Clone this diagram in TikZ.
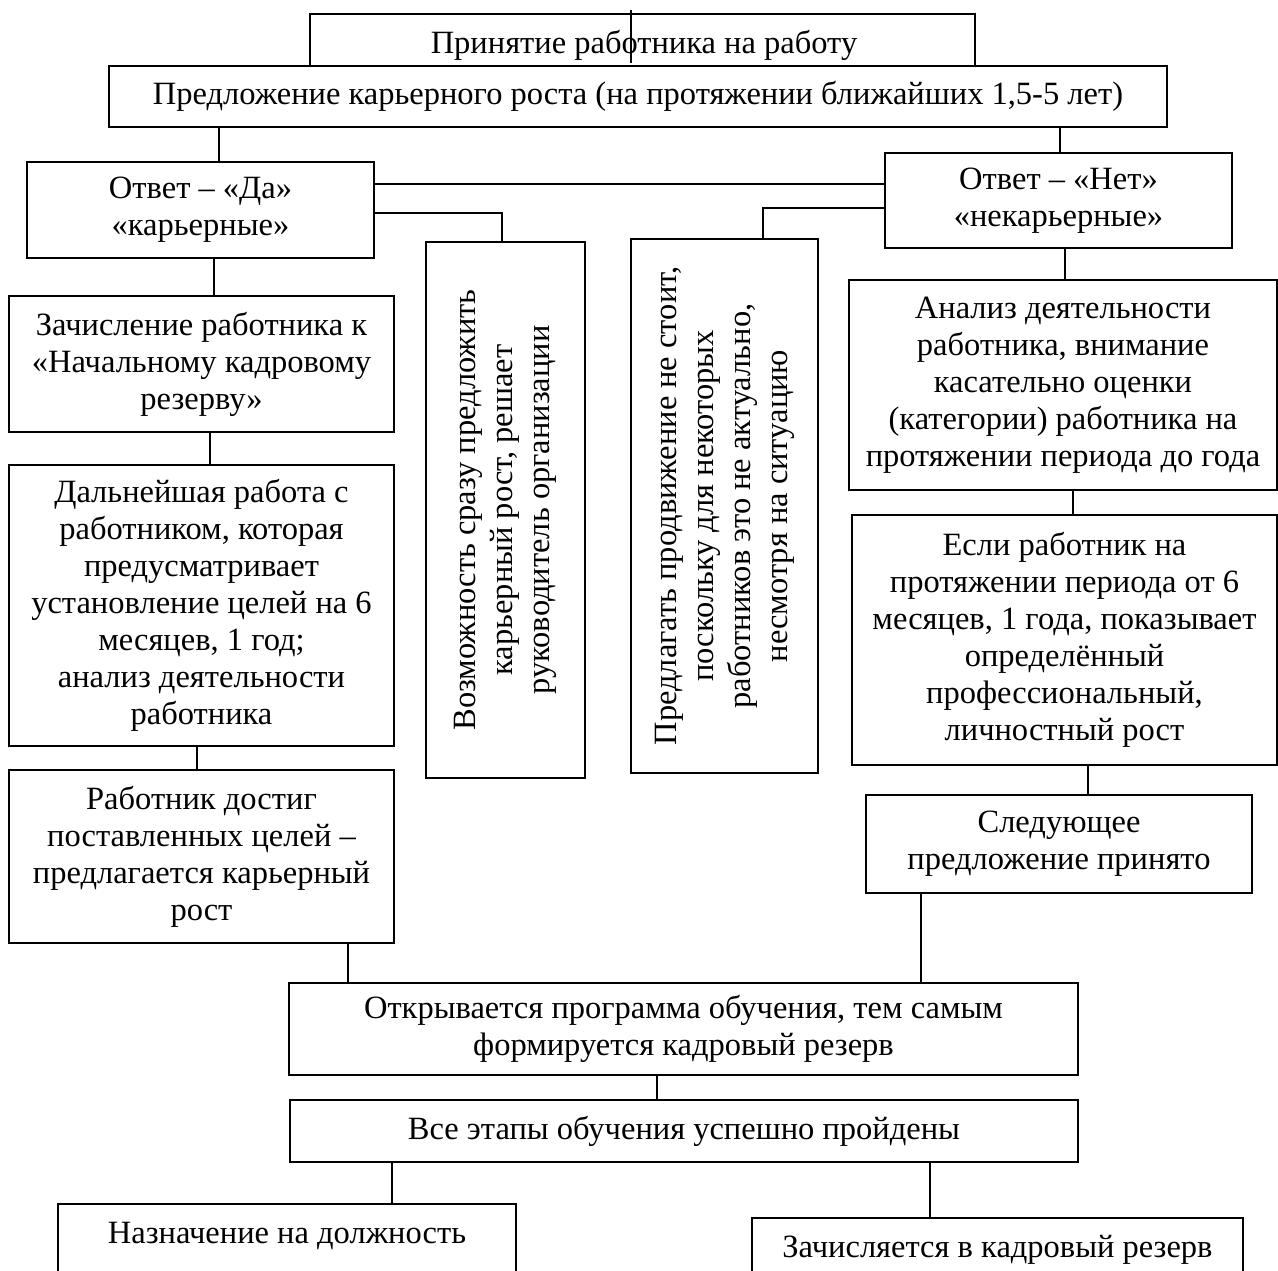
\documentclass[tikz,border=0pt]{standalone}
\usepackage{fontspec}
\setmainfont{Liberation Serif}
\begin{document}
\begin{tikzpicture}[x=1pt,y=-1pt,
  box/.style={draw, line width=1.3pt, inner sep=0pt, align=center, font=\fontsize{32.5}{37}\selectfont},
  txt/.style={inner sep=0pt, align=center, font=\fontsize{32.5}{37}\selectfont},
  conn/.style={line width=1.3pt}]
\useasboundingbox (0,0) rectangle (1278,1270);
\clip (0,0) rectangle (1278,1270);
% boxes
\node[box, minimum width=665, minimum height=52] (top) at (642.5,40) {};
\node[txt] (toptxt) at (644,45) {Принятие работника на работу};
\node[box, minimum width=1058, minimum height=61] (offer) at (638,96.5) {Предложение карьерного роста (на протяжении ближайших 1,5-5 лет)};
\node[box, minimum width=347, minimum height=96] (da) at (200.5,210) {Ответ – «Да»\\«карьерные»};
\node[box, minimum width=347, minimum height=95] (net) at (1058.5,200.5) {Ответ – «Нет»\\«некарьерные»};
\node[box, minimum width=159, minimum height=536] (voz) at (505.5,510) {};
\node[txt, rotate=90] (voztxt) at (voz.center) {Возможность сразу предложить\\карьерный рост, решает\\руководитель организации};
\node[box, minimum width=187, minimum height=534] (pred) at (724.5,506) {};
\node[txt, rotate=90] (predtxt) at (pred.center) {Предлагать продвижение не стоит,\\поскольку для некоторых\\работников это не актуально,\\несмотря на ситуацию};
\node[box, minimum width=385, minimum height=136] (zach) at (201.5,364) {Зачисление работника к\\«Начальному кадровому\\резерву»};
\node[box, minimum width=385, minimum height=281] (dal) at (201.5,605.5) {Дальнейшая работа с\\работником, которая\\предусматривает\\установление целей на 6\\месяцев, 1 год;\\анализ деятельности\\работника};
\node[box, minimum width=385, minimum height=173] (rab) at (201.5,856.5) {Работник достиг\\поставленных целей –\\предлагается карьерный\\рост};
\node[box, minimum width=428, minimum height=210] (anal) at (1063,385) {Анализ деятельности\\работника, внимание\\касательно оценки\\(категории) работника на\\протяжении периода до года};
\node[box, minimum width=425, minimum height=250] (esli) at (1064.5,640) {Если работник на\\протяжении периода от 6\\месяцев, 1 года, показывает\\определённый\\профессиональный,\\личностный рост};
\node[box, minimum width=386, minimum height=98] (sled) at (1059,844) {Следующее\\предложение принято};
\node[box, minimum width=789, minimum height=92] (otkr) at (683.5,1029) {Открывается программа обучения, тем самым\\формируется кадровый резерв};
\node[box, minimum width=788, minimum height=62] (vse) at (684,1131) {Все этапы обучения успешно пройдены};
\node[box, minimum width=458, minimum height=100] (nazn) at (287,1254) {};
\node[txt] (nazntxt) at (287,1236) {Назначение на должность};
\node[box, minimum width=491, minimum height=100] (zachisl) at (997.5,1268) {};
\node[txt] (zachisltxt) at (997.5,1250) {Зачисляется в кадровый резерв};
% connectors
\coordinate (t1) at (631,10);
\coordinate (t2) at (631,63);
\draw[conn] (t1) -- (t2);
\draw[conn] (219,0 |- offer.south) -- (219,0 |- da.north);
\draw[conn] (1060,0 |- offer.south) -- (1060,0 |- net.north);
\draw[conn] (da.east |- 0,184) -- (net.west |- 0,184);
\draw[conn] (da.east |- 0,213) -| (502,0 |- voz.north);
\draw[conn] (net.west |- 0,208) -| (763,0 |- pred.north);
\draw[conn] (214,0 |- da.south) -- (214,0 |- zach.north);
\draw[conn] (210,0 |- zach.south) -- (210,0 |- dal.north);
\draw[conn] (197,0 |- dal.south) -- (197,0 |- rab.north);
\draw[conn] (348,0 |- rab.south) -- (348,0 |- otkr.north);
\draw[conn] (1065,0 |- net.south) -- (1065,0 |- anal.north);
\draw[conn] (1073,0 |- anal.south) -- (1073,0 |- esli.north);
\draw[conn] (1088,0 |- esli.south) -- (1088,0 |- sled.north);
\draw[conn] (921,0 |- sled.south) -- (921,0 |- otkr.north);
\draw[conn] (657,0 |- otkr.south) -- (657,0 |- vse.north);
\draw[conn] (392,0 |- vse.south) -- (392,0 |- nazn.north);
\draw[conn] (930,0 |- vse.south) -- (930,0 |- zachisl.north);
\end{tikzpicture}
\end{document}
